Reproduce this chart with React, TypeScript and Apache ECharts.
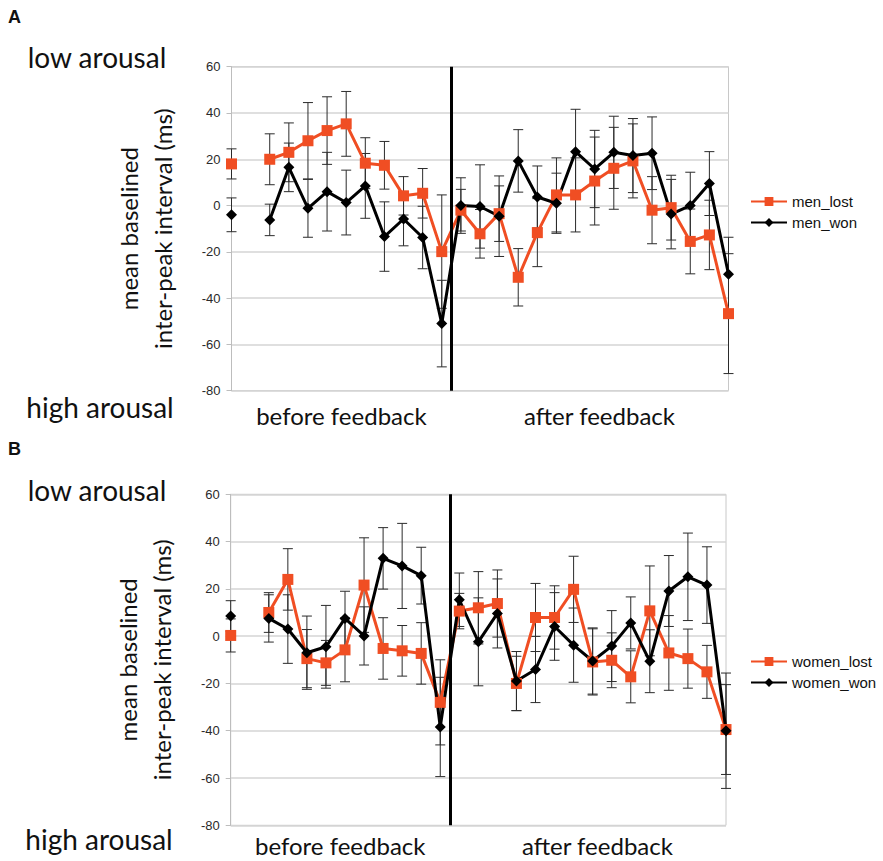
import React, { useEffect, useRef } from "react";
import * as echarts from "echarts";

// time points (x positions on the index scale); index 1 has no data
const timePoints = [0, 1, 2, 3, 4, 5, 6, 7, 8, 9, 10, 11, 12, 13, 14, 15, 16, 17, 18, 19, 20, 21, 22, 23, 24, 25, 26];
const feedbackAt = 11.5;
const sectionLabels = ["before feedback", "after feedback"];
const sectionCenters = [5.75, 19.25];
const yTicks = { min: -80, max: 60, step: 20 };

// Panel A: men
const menLost = [18, null, 20, 23, 28, 32.4, 35.3, 18.3, 17.4, 4.2, 5.3, -19.9, -2, -12.2, -3.5, -31, -11.7, 4.6, 4.6, 10.6, 16.1, 19.3, -2, -0.9, -15.5, -12.7, -46.7];
const menLostErr = [6.5, null, 11, 12.7, 16.5, 14.6, 14, 11, 10.3, 8.3, 10.7, 24.5, 9, 10.5, 12, 12.4, 14.7, 16, 16, 19, 17.7, 16, 14.5, 14, 14, 15, 25.9];
const menWon = [-4, null, -6.2, 16.5, -1.2, 6, 1.3, 8.5, -13.4, -5.8, -13.8, -51, 0, -0.4, -4.6, 19.3, 3.7, 1, 23.3, 15.8, 23, 21.6, 22.6, -3.7, 0, 9.5, -29.7];
const menWonErr = [7.3, null, 6.8, 10.5, 12.5, 17, 14, 14, 15, 11.6, 13.5, 18.7, 12, 18, 17.4, 13.5, 13.4, 13, 18.3, 16.7, 15.6, 16, 15.7, 15, 14.4, 13.8, 16];

// Panel B: women
const womenLost = [0.3, null, 10, 24, -9.5, -11.3, -5.8, 21.6, -5.2, -6.2, -7.3, -28, 10.6, 12, 13.8, -20, 7.9, 7.9, 19.8, -10.9, -10.2, -17.2, 10.7, -7.1, -9.5, -15.1, -39.5];
const womenLostErr = [7, null, 8.4, 13, 12.3, 9.5, 13.5, 20, 13, 10.7, 13, 18, 7.5, 15.3, 14.2, 11.5, 14.4, 13.4, 14, 14, 11.6, 11, 19, 15.8, 12.5, 11.2, 19];
const womenWon = [8.5, null, 7.5, 3, -7, -4.5, 7.5, 0.1, 32.9, 29.7, 25.6, -38.4, 15.4, -2.4, 9.6, -19, -14.1, 4.1, -3.8, -10.5, -4.2, 5.6, -10.6, 19.1, 25.1, 21.6, -40];
const womenWonErr = [6.5, null, 10, 14.5, 15.5, 17.5, 11.5, 12.3, 13, 18, 12, 21, 11.3, 18.6, 14.6, 12.5, 14, 14.3, 15.7, 14, 15, 11, 13.3, 15, 18.5, 16.2, 24.4];

const RED = "#f04e23";
const BLACK = "#000000";
const ERR = "#2b2b2b";
const SANS = "'Liberation Sans', Arial, sans-serif";
const HUMAN = "Lato, 'Open Sans', sans-serif";

function lineData(vals: (number | null)[]) {
  return timePoints.map((t, i) => [t, vals[i] == null ? "-" : vals[i]]);
}
function errData(vals: (number | null)[], errs: (number | null)[]) {
  const out: number[][] = [];
  timePoints.forEach((t, i) => {
    const v = vals[i];
    const e = errs[i];
    if (v != null && e != null) out.push([t, v - e, v + e]);
  });
  return out;
}

function errSeries(idx: number, vals: (number | null)[], errs: (number | null)[]) {
  return {
    type: "custom",
    xAxisIndex: idx,
    yAxisIndex: idx,
    silent: true,
    z: 2,
    data: errData(vals, errs),
    encode: { x: 0, y: [1, 2] },
    renderItem: (params: any, api: any) => {
      const x = api.value(0);
      const lo = api.coord([x, api.value(1)]);
      const hi = api.coord([x, api.value(2)]);
      const w = 5;
      const st = { stroke: ERR, lineWidth: 1 };
      return {
        type: "group",
        children: [
          { type: "line", shape: { x1: hi[0], y1: hi[1], x2: lo[0], y2: lo[1] }, style: st },
          { type: "line", shape: { x1: hi[0] - w, y1: hi[1], x2: hi[0] + w, y2: hi[1] }, style: st },
          { type: "line", shape: { x1: lo[0] - w, y1: lo[1], x2: lo[0] + w, y2: lo[1] }, style: st },
        ],
      };
    },
  };
}

function lineSeries(idx: number, name: string, vals: (number | null)[], color: string, symbol: string, size: number, withMark: boolean) {
  const s: any = {
    type: "line",
    name,
    xAxisIndex: idx,
    yAxisIndex: idx,
    data: lineData(vals),
    connectNulls: false,
    symbol,
    symbolSize: size,
    showAllSymbol: true,
    lineStyle: { color, width: 3 },
    itemStyle: { color, borderWidth: 0 },
    z: 3,
  };
  if (withMark) {
    s.markLine = {
      silent: true,
      symbol: ["none", "none"],
      label: { show: false },
      lineStyle: { color: "#000", width: 3, type: "solid" },
      data: [{ xAxis: feedbackAt }],
    };
  }
  return s;
}

export default function App() {
  const ref = useRef<HTMLDivElement>(null);
  useEffect(() => {
    if (!ref.current) return;
    const chart = echarts.init(ref.current, undefined, { renderer: "svg" });
    const grids = [
      { left: 231.5, top: 66.7, width: 497, height: 324 },
      { left: 230.7, top: 494.3, width: 495.3, height: 331 },
    ];
    const xAxes = grids.map((_, i) => ({
      type: "value",
      gridIndex: i,
      min: timePoints[0],
      max: timePoints[timePoints.length - 1],
      axisLine: { show: false },
      axisTick: { show: false },
      splitLine: { show: false },
      axisLabel: {
        show: true,
        customValues: sectionCenters,
        formatter: (v: number) => (v < feedbackAt ? sectionLabels[0] : sectionLabels[1]),
        fontFamily: HUMAN,
        fontSize: 24,
        lineHeight: 22,
        color: "#111",
        margin: i === 0 ? 14 : 9,
      },
    }));
    const yAxes = grids.map((_, i) => ({
      type: "value",
      gridIndex: i,
      min: yTicks.min,
      max: yTicks.max,
      interval: yTicks.step,
      name: "mean baselined\ninter-peak interval (ms)",
      nameLocation: "middle",
      nameRotate: 90,
      nameGap: 52,
      nameTextStyle: { fontFamily: HUMAN, fontSize: 24, color: "#111", lineHeight: 34 },
      axisLine: { show: true, lineStyle: { color: "#bdbdbd", width: 1 } },
      axisTick: { show: true, length: 5, lineStyle: { color: "#bdbdbd" } },
      splitLine: { show: true, lineStyle: { color: "#d4d4d4", width: 1.5 } },
      axisLabel: { fontFamily: SANS, fontSize: 13, color: "#2a2a2a", margin: 11 },
    }));
    const legendCommon = {
      orient: "vertical",
      itemWidth: 36,
      itemHeight: 11,
      itemGap: 6,
      textStyle: { fontFamily: SANS, fontSize: 15, color: "#111" },
    };
    const bigText = (text: string, x: number, y: number, size: number, weight = "normal", family = HUMAN) => ({
      type: "text",
      x,
      y,
      style: { text, fontFamily: family, fontSize: size, fontWeight: weight, fill: "#111", textAlign: "center", textVerticalAlign: "middle" },
    });
    chart.setOption({
      animation: false,
      grid: grids.map((g) => ({ ...g, show: true, borderColor: "#c8c8c8", borderWidth: 1, backgroundColor: "transparent" })),
      xAxis: xAxes,
      yAxis: yAxes,
      legend: [
        { ...legendCommon, left: 745, top: 189, data: ["men_lost", "men_won"] },
        { ...legendCommon, left: 745, top: 649, data: ["women_lost", "women_won"] },
      ],
      graphic: [
        bigText("A", 14.5, 17, 18, "bold", SANS),
        bigText("low arousal", 97, 57, 28),
        bigText("high arousal", 100, 407, 28),
        bigText("B", 14.5, 449, 18, "bold", SANS),
        bigText("low arousal", 97, 490, 28),
        bigText("high arousal", 99, 839, 28),
      ],
      series: [
        errSeries(0, menLost, menLostErr),
        lineSeries(0, "men_lost", menLost, RED, "rect", 11, false),
        errSeries(0, menWon, menWonErr),
        lineSeries(0, "men_won", menWon, BLACK, "diamond", 11, true),
        errSeries(1, womenLost, womenLostErr),
        lineSeries(1, "women_lost", womenLost, RED, "rect", 11, false),
        errSeries(1, womenWon, womenWonErr),
        lineSeries(1, "women_won", womenWon, BLACK, "diamond", 11, true),
      ],
    });
    return () => chart.dispose();
  }, []);
  return <div ref={ref} style={{ position: "fixed", left: 0, top: 0, width: 883, height: 861, background: "#fff" }} />;
}
